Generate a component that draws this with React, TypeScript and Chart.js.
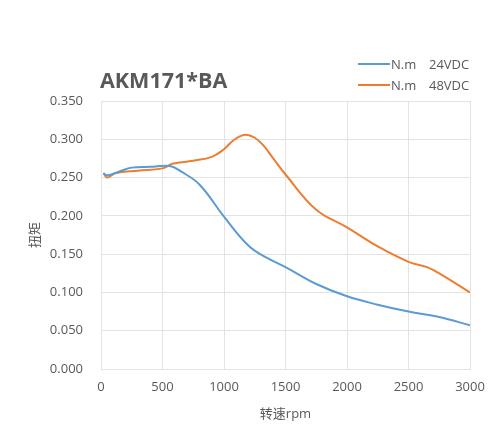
import { useRef, useEffect } from 'react';
import Chart from 'chart.js/auto';

// Torque curves (rpm -> N.m)
const rpm24 = [20, 60, 150, 250, 400, 560, 650, 800, 1000, 1200, 1350, 1500, 1750, 2000, 2250, 2500, 2750, 3000];
const torque24 = [0.255, 0.253, 0.258, 0.263, 0.264, 0.265, 0.258, 0.241, 0.199, 0.161, 0.145, 0.133, 0.111, 0.095, 0.084, 0.075, 0.068, 0.057];

const rpm48 = [20, 50, 120, 300, 500, 580, 750, 900, 1000, 1080, 1170, 1250, 1320, 1400, 1500, 1750, 2000, 2250, 2500, 2650, 2750, 3000];
const torque48 = [0.256, 0.250, 0.256, 0.259, 0.262, 0.268, 0.272, 0.277, 0.287, 0.299, 0.306, 0.302, 0.292, 0.275, 0.254, 0.208, 0.185, 0.160, 0.140, 0.133, 0.125, 0.100];

const seriesLabels = ['N.m', 'N.m'];
const seriesVoltages = ['24VDC', '48VDC'];
const seriesColors = ['#5B9BD5', '#ED7D31'];

const FONT = "'Open Sans', 'Noto Sans CJK SC', sans-serif";
const TEXT = '#595959';
const GRID = '#e3e3e3';

function TorqueChart() {
  const canvasRef = useRef<HTMLCanvasElement | null>(null);
  const chartRef = useRef<Chart | null>(null);

  useEffect(() => {
    document.body.style.margin = '0';
    if (!canvasRef.current) return;
    const ctx = canvasRef.current.getContext('2d');
    if (!ctx) return;

    chartRef.current = new Chart(ctx, {
      type: 'line',
      data: {
        datasets: [
          {
            label: seriesLabels[0] + ' ' + seriesVoltages[0],
            data: rpm24.map((x, i) => ({ x, y: torque24[i] })),
            borderColor: seriesColors[0],
            backgroundColor: seriesColors[0],
            borderWidth: 2,
            pointRadius: 0,
            tension: 0.4,
            fill: false,
          },
          {
            label: seriesLabels[1] + ' ' + seriesVoltages[1],
            data: rpm48.map((x, i) => ({ x, y: torque48[i] })),
            borderColor: seriesColors[1],
            backgroundColor: seriesColors[1],
            borderWidth: 2,
            pointRadius: 0,
            tension: 0.4,
            fill: false,
          },
        ],
      },
      options: {
        responsive: false,
        animation: false,
        layout: { padding: { top: 101, right: 30, left: 0, bottom: 0 } },
        plugins: {
          legend: { display: false },
          title: { display: false },
          tooltip: { enabled: false },
        },
        scales: {
          x: {
            type: 'linear',
            min: 0,
            max: 3000,
            ticks: {
              stepSize: 500,
              color: TEXT,
              font: { family: FONT, size: 13 },
              padding: 10,
              maxRotation: 0,
              callback: (v: any) => String(v),
            },
            grid: { color: GRID, drawTicks: false },
            border: { color: GRID },
            title: {
              display: true,
              text: '转速rpm',
              color: TEXT,
              font: { family: FONT, size: 13 },
              padding: { top: 0, bottom: 22 },
            },
            afterFit: (scale: any) => {
              scale.height = 75;
            },
          },
          y: {
            min: 0,
            max: 0.35,
            ticks: {
              stepSize: 0.05,
              color: TEXT,
              font: { family: FONT, size: 13 },
              padding: 18,
              callback: (v: any) => Number(v).toFixed(3),
            },
            grid: { color: GRID, drawTicks: false },
            border: { color: GRID },
            title: {
              display: true,
              text: '扭矩',
              color: TEXT,
              font: { family: FONT, size: 13 },
              padding: { top: 27, bottom: 0 },
            },
            afterFit: (scale: any) => {
              scale.width = 101;
            },
          },
        },
      },
    });

    return () => {
      if (chartRef.current) {
        chartRef.current.destroy();
        chartRef.current = null;
      }
    };
  }, []);

  return (
    <div style={{ position: 'relative', width: 500, height: 444, background: '#fff' }}>
      <canvas ref={canvasRef} width={500} height={444}></canvas>
      <div
        style={{
          position: 'absolute',
          left: 100,
          top: 65,
          fontFamily: FONT,
          fontWeight: 700,
          fontSize: 21.5,
          color: TEXT,
          lineHeight: '30px',
        }}
      >
        AKM171*BA
      </div>
      <div style={{ position: 'absolute', left: 358, top: 54, fontFamily: FONT, fontSize: 13, color: TEXT }}>
        {seriesLabels.map((label, i) => (
          <div key={i} style={{ display: 'flex', alignItems: 'center', height: 20.5 }}>
            <span style={{ display: 'inline-block', width: 32, height: 2, background: seriesColors[i], marginRight: 1 }}></span>
            <span style={{ display: 'inline-block', width: 38 }}>{label}</span>
            <span>{seriesVoltages[i]}</span>
          </div>
        ))}
      </div>
    </div>
  );
}

export default function App() {
  return <TorqueChart />;
}
